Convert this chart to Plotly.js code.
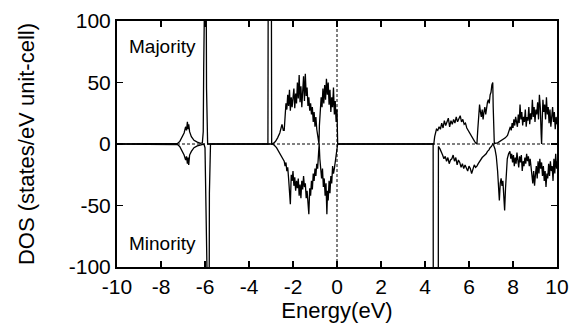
<!DOCTYPE html>
<html>
<head>
<meta charset="utf-8">
<script src="https://cdn.plot.ly/plotly-3.0.1.min.js"></script>
<style>html,body{margin:0;padding:0;background:#fff;}#chart{width:572px;height:324px;}</style>
</head>
<body>
<div id="chart"></div>
<script>
// Majority-spin DOS (positive)
const majE = [-10,-7.3,-7.25,-7.15,-7.05,-6.95,-6.88,-6.84,-6.8,-6.77,-6.74,-6.7,-6.62,-6.5,-6.35,-6.2,-6.12,-6.08,-6.06,-6.05,-5.97,-5.95,-5.93,-5.91,-5.88,
 -3.14,-3.12,-2.99,-2.97,-2.9,-2.8,-2.7,-2.6,-2.5,-2.44,
 -2.40,-2.36,-2.32,-2.28,-2.24,-2.20,-2.16,-2.12,-2.08,-2.04,-2.00,-1.96,-1.92,-1.88,-1.84,-1.80,-1.76,-1.72,-1.68,-1.64,-1.60,-1.56,-1.52,-1.48,-1.44,-1.40,-1.36,-1.32,-1.28,-1.24,-1.20,-1.16,-1.12,-1.08,-1.04,-1.00,-0.96,-0.92,-0.88,-0.84,
 -0.82,-0.80,-0.76,-0.72,-0.68,-0.64,-0.60,-0.56,-0.52,-0.48,-0.44,-0.40,-0.36,-0.32,-0.28,-0.24,-0.20,-0.16,-0.12,-0.08,-0.04,0.00,0.03,
 4.40,4.44,4.48,4.52,4.58,4.64,4.70,4.76,4.82,4.88,4.94,5.00,5.06,5.12,5.18,5.24,5.30,5.36,5.42,5.48,5.54,5.60,5.66,5.72,5.78,5.84,5.90,5.96,6.02,6.08,6.14,6.20,6.26,6.32,6.36,
 6.40,6.44,6.48,6.52,6.56,6.60,6.64,6.68,6.72,6.76,6.80,6.84,6.88,6.92,6.96,7.00,7.04,7.08,7.10,7.12,7.15,7.3,7.5,7.65,7.75,
 7.82,7.88,7.92,7.96,8.00,8.04,8.08,8.12,8.16,8.20,8.24,8.28,8.32,8.36,8.40,8.44,8.48,8.52,8.56,8.60,8.64,8.68,8.72,8.76,8.80,8.84,8.88,8.92,8.96,9.00,9.04,9.08,9.12,9.16,9.20,9.24,9.28,9.30,
 9.33,9.36,9.40,9.44,9.48,9.52,9.56,9.60,9.64,9.68,9.72,9.76,9.80,9.84,9.88,9.92,9.96,10.0];
const majDOS = [0,0,0.5,2,5,9,14,11,18,12,16,10,6,3,1.5,0.5,1,10,60,200,200,150,45,15,0,
 0,200,200,0,0.5,2,5,9,16,11,
 11,24,33,28,40,31,44,27,38,30,36,45,29,41,33,50,37,56,34,47,30,42,55,35,57,39,46,31,38,27,33,24,30,18,26,14,22,12,6,3,
 0,15,28,38,30,45,33,48,36,53,40,50,32,44,26,38,30,46,24,35,18,28,0,
 0,6,10,12,11,14,12,17,13,19,15,18,21,14,19,16,20,17,22,18,21,23,18,20,16,17,13,11,9,7,5,3,2,0.5,0,
 12,24,32,26,22,28,20,26,30,24,30,34,36,33,40,42,48,50,30,2,0.5,1,3,5,7,
 10,14,11,17,13,20,15,22,18,14,24,17,32,20,26,15,22,18,28,14,22,19,30,16,25,20,36,22,30,18,28,24,34,20,40,30,8,0,
 20,36,26,32,20,38,24,30,17,28,14,24,30,18,26,12,22,16];

// Minority-spin DOS (negative)
const minE = [-10,-7.3,-7.25,-7.15,-7.05,-6.95,-6.88,-6.84,-6.8,-6.77,-6.74,-6.7,-6.62,-6.5,-6.35,-6.2,-6.05,-6.0,-5.97,-5.95,-5.82,-5.80,-5.78,-5.75,
 -2.95,-2.85,-2.75,-2.65,-2.55,-2.48,-2.44,
 -2.40,-2.36,-2.32,-2.28,-2.24,-2.20,-2.16,-2.12,-2.08,-2.04,-2.00,-1.96,-1.92,-1.88,-1.84,-1.80,-1.76,-1.72,-1.68,-1.64,-1.60,-1.56,-1.52,-1.48,-1.44,-1.40,-1.36,-1.32,-1.28,-1.24,-1.20,-1.16,-1.12,-1.08,-1.04,-1.00,-0.96,-0.92,-0.88,-0.84,-0.81,
 -0.78,-0.74,-0.70,-0.66,-0.62,-0.58,-0.54,-0.50,-0.46,-0.43,-0.40,-0.36,-0.32,-0.28,-0.24,-0.20,-0.16,-0.12,-0.08,-0.04,0.00,0.03,
 4.37,4.38,4.60,4.61,
 4.68,4.74,4.80,4.86,4.92,4.98,5.04,5.10,5.16,5.22,5.28,5.34,5.40,5.46,5.52,5.58,5.64,5.70,5.76,5.82,5.88,5.94,6.00,6.06,6.12,6.18,6.24,6.30,6.36,
 6.42,6.48,6.54,6.60,6.66,6.72,6.78,6.84,6.90,6.96,7.02,7.08,
 7.12,7.18,7.24,7.30,7.34,7.38,7.42,7.46,7.50,7.54,7.58,7.62,7.66,7.70,7.74,7.80,
 7.86,7.90,7.94,7.98,8.02,8.06,8.10,8.14,8.18,8.22,8.26,8.30,8.34,8.38,8.42,8.46,8.50,8.54,8.58,8.62,8.66,8.70,8.74,8.78,8.82,8.86,8.90,8.94,8.98,9.02,9.06,9.10,9.14,9.18,9.22,9.26,9.30,9.34,9.38,9.42,9.46,9.50,9.54,9.58,9.62,9.66,9.70,9.74,9.78,9.82,9.86,9.90,9.94,9.98,10.0];
const minDOS = [0,0,-0.5,-2,-5,-9,-13,-10,-16,-11,-17,-9,-6,-3,-1.5,-0.5,0,-3,-30,-200,-200,-40,-5,0,
 0,-1,-3,-6,-9,-12,-13,
 -14,-18,-15,-22,-19,-28,-40,-49,-25,-30,-22,-34,-27,-38,-30,-36,-28,-42,-33,-44,-30,-37,-26,-35,-32,-44,-38,-50,-57,-36,-42,-30,-37,-24,-30,-20,-26,-16,-20,-8,0,
 -12,-22,-28,-20,-35,-28,-42,-32,-57,-38,-46,-30,-40,-26,-32,-18,-24,-20,-14,-8,-3,0,
 0,-200,-200,-2,
 -4,-6,-9,-12,-10,-14,-11,-16,-13,-12,-9,-14,-11,-17,-13,-15,-19,-16,-20,-17,-19,-22,-18,-20,-24,-20,-17,-19,-18,
 -16,-14,-13,-11,-10,-9,-8,-6,-5,-3,-2,0,
 -1,-4,-10,-22,-35,-46,-32,-28,-34,-30,-42,-54,-36,-20,-12,-8,
 -6,-12,-8,-15,-9,-18,-11,-16,-7,-13,-19,-10,-15,-9,-22,-14,-18,-11,-16,-8,-14,-10,-18,-12,-20,-26,-32,-22,-34,-25,-18,-28,-14,-24,-12,-20,-15,-26,-18,-30,-22,-35,-24,-28,-16,-26,-14,-22,-18,-30,-12,-24,-8,-20,-14];

const xTicks = [-10,-8,-6,-4,-2,0,2,4,6,8,10];
const yTicks = [-100,-50,0,50,100];

const lineStyle = {color:'#000', width:1.3};
const traces = [
  {x:majE, y:majDOS, type:'scatter', mode:'lines', line:lineStyle, hoverinfo:'skip'},
  {x:minE, y:minDOS, type:'scatter', mode:'lines', line:lineStyle, hoverinfo:'skip'}
];

const fnt = 'Liberation Sans, Arial, sans-serif';
const axisCommon = {
  showgrid:false, zeroline:false, showline:true, linecolor:'#000', linewidth:2,
  mirror:'ticks', ticks:'inside', ticklen:6, tickwidth:1.5, tickcolor:'#000',
  tickfont:{family:fnt, size:21, color:'#000'}
};
const layout = {
  width:572, height:324,
  margin:{l:117, r:15, t:21, b:57, pad:0},
  paper_bgcolor:'#fff', plot_bgcolor:'#fff',
  showlegend:false,
  xaxis:Object.assign({}, axisCommon, {range:[-10,10], tickvals:xTicks, ticktext:xTicks.map(String),
    title:{text:'Energy(eV)', font:{family:fnt, size:22, color:'#000'}, standoff:0}}),
  yaxis:Object.assign({}, axisCommon, {range:[-100,100], tickvals:yTicks, ticktext:yTicks.map(String),
    title:{text:'DOS (states/eV unit-cell)', font:{family:fnt, size:22, color:'#000'}, standoff:28}}),
  shapes:[
    {type:'line', xref:'x', yref:'y', x0:-10, x1:10, y0:0, y1:0, line:{color:'#000', width:1, dash:'3px,2px'}},
    {type:'line', xref:'x', yref:'y', x0:0, x1:0, y0:-100, y1:100, line:{color:'#000', width:1, dash:'3px,2px'}}
  ],
  annotations:[
    {text:'Majority', xref:'paper', yref:'paper', x:0.022, y:0.898, xanchor:'left', yanchor:'middle', showarrow:false, font:{family:fnt, size:19, color:'#000'}},
    {text:'Minority', xref:'paper', yref:'paper', x:0.022, y:0.095, xanchor:'left', yanchor:'middle', showarrow:false, font:{family:fnt, size:19, color:'#000'}}
  ]
};
Plotly.newPlot('chart', traces, layout, {staticPlot:true, displayModeBar:false});
</script>
</body>
</html>
